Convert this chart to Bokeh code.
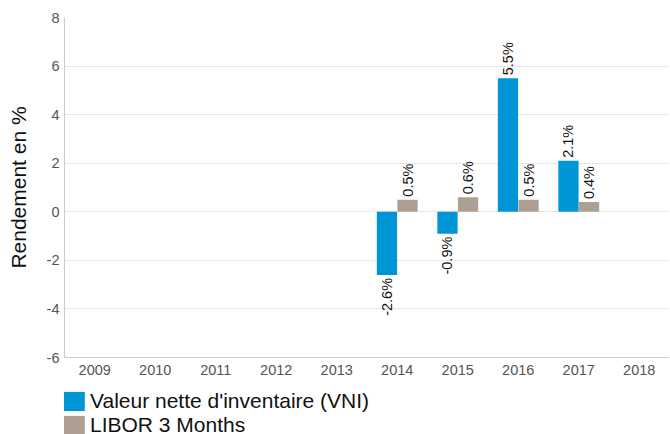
from math import pi
from bokeh.plotting import figure
from bokeh.layouts import column
from bokeh.models import (ColumnDataSource, FactorRange, Range1d, Legend, LegendItem,
                          LabelSet, FixedTicker)
from bokeh.core.properties import value
from bokeh.transform import dodge
from bokeh.embed import file_html
from bokeh.resources import INLINE

years = ["2009", "2010", "2011", "2012", "2013", "2014", "2015", "2016", "2017", "2018"]
bar_years = ["2014", "2015", "2016", "2017"]
vni = [-2.6, -0.9, 5.5, 2.1]
libor = [0.5, 0.6, 0.5, 0.4]
y_ticks = [-6, -4, -2, 0, 2, 4, 6, 8]
series_names = ["Valeur nette d'inventaire (VNI)", "LIBOR 3 Months"]

BLUE = "#0096D6"
BROWN = "#ADA093"
FONT = "Liberation Sans"

p = figure(x_range=FactorRange(*years), y_range=Range1d(-6, 8),
           width=669, height=381, output_backend="svg", toolbar_location=None,
           min_border_left=64, min_border_right=0, min_border_top=17, min_border_bottom=24)
p.outline_line_color = None
p.background_fill_color = "white"

src_vni = ColumnDataSource(dict(year=bar_years, value=vni))
src_lib = ColumnDataSource(dict(year=bar_years, value=libor))

r1 = p.vbar(x=dodge("year", -0.17, range=p.x_range), top="value", bottom=0, width=0.335,
            source=src_vni, fill_color=BLUE, line_color=None)
r2 = p.vbar(x=dodge("year", 0.17, range=p.x_range), top="value", bottom=0, width=0.335,
            source=src_lib, fill_color=BROWN, line_color=None)

def add_labels(years_, vals, off):
    pos = [(y, v) for y, v in zip(years_, vals) if v >= 0]
    neg = [(y, v) for y, v in zip(years_, vals) if v < 0]
    for items, align, yoff in ((pos, "left", 3), (neg, "right", -3)):
        if not items:
            continue
        s = ColumnDataSource(dict(year=[i[0] for i in items], value=[i[1] for i in items],
                                  label=[f"{i[1]:.1f}%" for i in items]))
        ls = LabelSet(x=dodge("year", off, range=p.x_range), y="value", text="label",
                      source=s, angle=pi / 2, text_align=align, text_baseline="middle",
                      y_offset=yoff, text_font=value(FONT), text_font_size="14.5px",
                      text_color="#111111")
        p.add_layout(ls)

add_labels(bar_years, vni, -0.17)
add_labels(bar_years, libor, 0.17)

# axes
p.yaxis.ticker = FixedTicker(ticks=y_ticks)
p.yaxis.major_label_overrides = {t: str(t) for t in y_ticks}
p.yaxis.axis_label = "Rendement en %"
p.yaxis.axis_label_text_font = FONT
p.yaxis.axis_label_text_font_size = "21px"
p.yaxis.axis_label_text_font_style = "normal"
p.yaxis.axis_label_text_color = "#111111"
p.yaxis.axis_label_standoff = 14
for ax in (p.xaxis, p.yaxis):
    ax.axis_line_color = "#cccccc"
    ax.axis_line_width = 1
    ax.major_tick_line_color = None
    ax.minor_tick_line_color = None
    ax.major_tick_out = 0
    ax.major_tick_in = 0
    ax.minor_tick_out = 0
    ax.minor_tick_in = 0
    ax.major_label_text_font = FONT
    ax.major_label_text_font_size = "14.5px"
    ax.major_label_text_color = "#555555"
    ax.major_label_standoff = 5
p.xaxis.major_label_standoff = 7

p.xgrid.grid_line_color = None
p.ygrid.grid_line_color = "#e6e6e6"
p.ygrid.ticker = FixedTicker(ticks=y_ticks)

# legend strip below the chart (same data, bars fall outside its view)
p2 = figure(x_range=p.x_range, y_range=Range1d(100, 101), width=669, height=54,
            output_backend="svg", toolbar_location=None,
            x_axis_location=None, y_axis_location=None,
            min_border_left=0, min_border_right=0, min_border_top=0, min_border_bottom=0)
p2.outline_line_color = None
p2.xgrid.grid_line_color = None
p2.ygrid.grid_line_color = None
l1 = p2.vbar(x="year", top="value", bottom=0, width=0.335, source=src_vni,
             fill_color=BLUE, line_color=None)
l2 = p2.vbar(x="year", top="value", bottom=0, width=0.335, source=src_lib,
             fill_color=BROWN, line_color=None)

legend = Legend(items=[LegendItem(label=series_names[0], renderers=[l1]),
                       LegendItem(label=series_names[1], renderers=[l2])],
                location=(-4, -2), orientation="vertical",
                glyph_width=27, glyph_height=24, label_height=24, spacing=0,
                label_standoff=3, padding=0, margin=0,
                label_text_font=FONT, label_text_font_size="21px",
                label_text_color="#111111",
                border_line_color=None, background_fill_alpha=0)
p2.add_layout(legend, "center")

layout = column(p, p2, spacing=0)
open("out.html", "w").write(file_html(layout, INLINE))
